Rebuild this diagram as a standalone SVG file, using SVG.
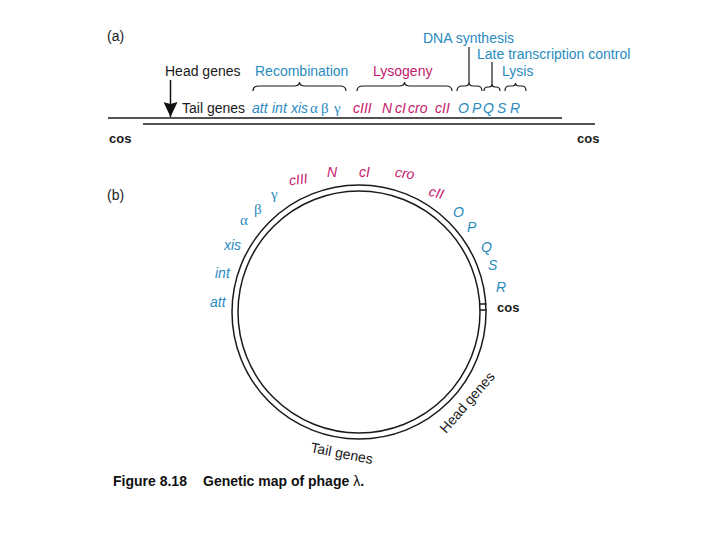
<svg xmlns="http://www.w3.org/2000/svg" width="720" height="540" viewBox="0 0 720 540">
<defs>
<style>
text{font-family:"Liberation Sans",Arial,sans-serif;font-size:14px;fill:#1a1a1a}
.b{fill:#2a8bbf}
.m{fill:#c4196e}
.i{font-style:italic}
.g{font-family:"Liberation Serif","Times New Roman",serif;font-size:15px;font-style:normal}
.cos{font-weight:bold;font-size:13px}
.brace{fill:none;stroke:#1a1a1a;stroke-width:1.2}
.line{stroke:#1a1a1a;stroke-width:1.5;fill:none}
.cap{font-weight:bold;font-size:14px;fill:#111}
</style>
<marker id="arr" markerWidth="16" markerHeight="14" refX="15" refY="7" orient="auto" markerUnits="userSpaceOnUse" viewBox="0 0 16 14">
<path d="M0,0 L15,7 L0,14 L2,7 Z" fill="#111"/>
</marker>
</defs>
<rect width="720" height="540" fill="#fff"/>

<g id="panel-a">
<text x="107" y="41">(a)</text>
<text x="165" y="76">Head genes</text>
<text x="182" y="113">Tail genes</text>
<g id="connectors">
<line x1="170.5" y1="80" x2="170.5" y2="117" stroke="#111" stroke-width="1.5" marker-end="url(#arr)"/>
<line class="line" x1="108" y1="118" x2="562" y2="118"/>
<line class="line" x1="143" y1="124" x2="595" y2="124"/>
<path class="brace" d="M253,91 Q253,86 259,86 L294,86 Q299.5,86 299.5,82 Q299.5,86 305,86 L340,86 Q346,86 346,91"/>
<path class="brace" d="M357,91 Q357,86 363,86 L399,86 Q404.5,86 404.5,82 Q404.5,86 410,86 L446,86 Q452,86 452,91"/>
<path class="brace" d="M457,91 Q457,86 462,86 L465,86 Q469,86 469,82 L469,47 M469,82 Q469,86 473,86 L477,86 Q482,86 482,91"/>
<path class="brace" d="M484,91 Q484,87 488,87 L489,87 Q492,87 492,84 L492,62 M492,84 Q492,87 495,87 L496,87 Q500,87 500,91"/>
<path class="brace" d="M505,91 Q505,86 509,86 L512,86 Q515.5,86 515.5,83 Q515.5,86 519,86 L522,86 Q526,86 526,91"/>
</g>
<text class="b" x="255" y="76">Recombination</text>
<text class="m" x="373" y="76">Lysogeny</text>
<text class="b" x="423" y="43">DNA synthesis</text>
<text class="b" x="477" y="59">Late transcription control</text>
<text class="b" x="502" y="76">Lysis</text>
<g id="genes-a">
<text class="b i" x="252" y="113">att</text>
<text class="b i" x="272" y="113">int</text>
<text class="b i" x="291" y="113">xis</text>
<text class="b g" x="310" y="113">α</text>
<text class="b g" x="321" y="113">β</text>
<text class="b g" x="334" y="113">γ</text>
<text class="m i" x="353" y="113">cIII</text>
<text class="m i" x="382" y="113">N</text>
<text class="m i" x="395" y="113">cI</text>
<text class="m i" x="408" y="113">cro</text>
<text class="m i" x="435" y="113">cII</text>
<text class="b i" x="458" y="113">O</text>
<text class="b i" x="472" y="113">P</text>
<text class="b i" x="483" y="113">Q</text>
<text class="b i" x="497" y="113">S</text>
<text class="b i" x="510" y="113">R</text>
</g>
<text class="cos" x="109" y="143">cos</text>
<text class="cos" x="577" y="143">cos</text>
</g>

<g id="panel-b">
<text x="107" y="200">(b)</text>
<g id="chromosome">
<circle class="line" cx="359" cy="312" r="127"/>
<circle class="line" cx="359" cy="312" r="121"/>
<line class="line" x1="479.5" y1="304" x2="486.5" y2="304" stroke-width="1.2"/>
<line class="line" x1="479.5" y1="310" x2="486.5" y2="310" stroke-width="1.2"/>
</g>
<g id="genes-b">
<text class="b i" x="210" y="307">att</text>
<text class="b i" x="215" y="278">int</text>
<text class="b i" x="224" y="250">xis</text>
<text class="b g" x="240" y="225">α</text>
<text class="b g" x="254" y="214">β</text>
<text class="b g" x="271" y="199">γ</text>
<text class="m i" x="289" y="184" transform="rotate(-8 300 180)">cIII</text>
<text class="m i" x="327" y="177">N</text>
<text class="m i" x="359" y="177">cI</text>
<text class="m i" x="395" y="178" transform="rotate(8 404 174)">cro</text>
<text class="m i" x="429" y="198" transform="rotate(15 438 193)">cII</text>
<text class="b i" x="453" y="217">O</text>
<text class="b i" x="467" y="232">P</text>
<text class="b i" x="481" y="252">Q</text>
<text class="b i" x="488" y="270">S</text>
<text class="b i" x="496" y="292">R</text>
<text class="cos" x="497" y="312">cos</text>
</g>
<text x="310" y="452" transform="rotate(11 310 452)">Tail genes</text>
<text x="446" y="434" transform="rotate(-49 446 434)">Head genes</text>
</g>

<g id="caption">
<text class="cap" x="113" y="486">Figure 8.18</text>
<text class="cap" x="203" y="486">Genetic map of phage <tspan font-weight="normal">λ</tspan>.</text>
</g>
</svg>
